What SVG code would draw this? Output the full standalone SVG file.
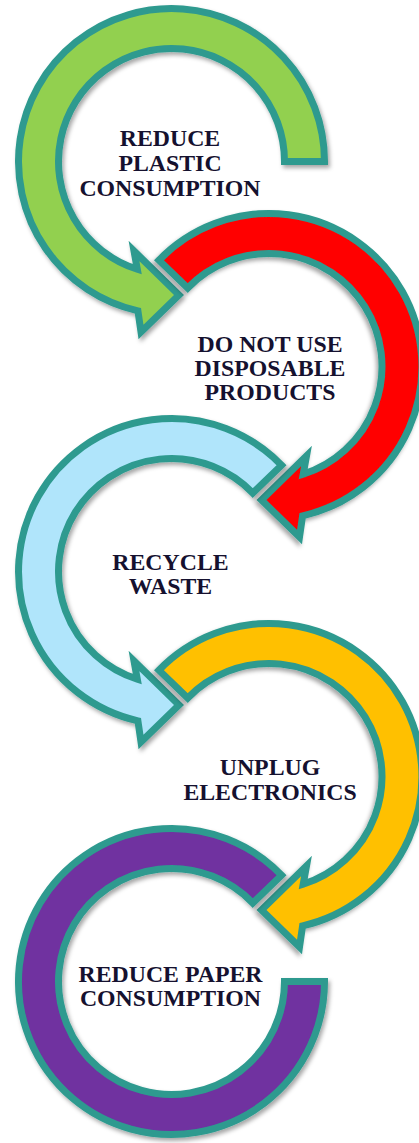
<svg xmlns="http://www.w3.org/2000/svg" width="419" height="1143" viewBox="0 0 419 1143">
<style>
.arc{stroke:#2E9A8F;stroke-width:7;stroke-linejoin:miter;filter:url(#sh)}
.t{font-family:"Liberation Serif","Times New Roman",serif;font-weight:bold;font-size:23.8px;fill:#15112F;text-anchor:middle}
</style>
<defs>
<filter id="sh" x="-20%" y="-20%" width="140%" height="140%">
<feDropShadow dx="2" dy="3" stdDeviation="2.2" flood-color="#000" flood-opacity="0.35"/>
</filter>
<path id="arrowStart0" d="M153 0 A153 153 0 1 0 -33.6 149.3 L-30.5 170.5 L7.5 133.5 L-37.5 89.5 L-34.2 107.7 A113 113 0 1 1 113 0 Z"/>
<path id="arrowStart44" d="M110.06 -106.28 A153 153 0 1 0 -33.6 149.3 L-30.5 170.5 L7.5 133.5 L-37.5 89.5 L-34.2 107.7 A113 113 0 1 1 81.29 -78.5 Z"/>
</defs>
<rect width="419" height="1143" fill="#FFFFFF"/>
<g id="connectors"></g>
<g id="node1">
<use href="#arrowStart0" class="arc" fill="#92D050" transform="translate(171.5,161.5)"/>
<text class="t" x="170" y="146">REDUCE</text>
<text class="t" x="170" y="171">PLASTIC</text>
<text class="t" x="170" y="196">CONSUMPTION</text>
</g>
<g id="node2">
<use href="#arrowStart44" class="arc" fill="#FF0000" transform="translate(269,366.5) scale(-1,1)"/>
<text class="t" x="270" y="352">DO NOT USE</text>
<text class="t" x="270" y="376">DISPOSABLE</text>
<text class="t" x="270" y="400">PRODUCTS</text>
</g>
<g id="node3">
<use href="#arrowStart44" class="arc" fill="#B0E5FB" transform="translate(171.5,571.5)"/>
<text class="t" x="170.5" y="570">RECYCLE</text>
<text class="t" x="170.5" y="594">WASTE</text>
</g>
<g id="node4">
<use href="#arrowStart44" class="arc" fill="#FFC000" transform="translate(269,776.5) scale(-1,1)"/>
<text class="t" x="270" y="775">UNPLUG</text>
<text class="t" x="270" y="800">ELECTRONICS</text>
</g>
<g id="node5">
<path class="arc" fill="#7030A0" transform="translate(171.5,981.5)" d="M110.06 -106.28 A153 153 0 1 0 153 0 L113 0 A113 113 0 1 1 81.29 -78.5 Z"/>
<text class="t" x="170.5" y="982">REDUCE PAPER</text>
<text class="t" x="170.5" y="1006">CONSUMPTION</text>
</g>
</svg>
